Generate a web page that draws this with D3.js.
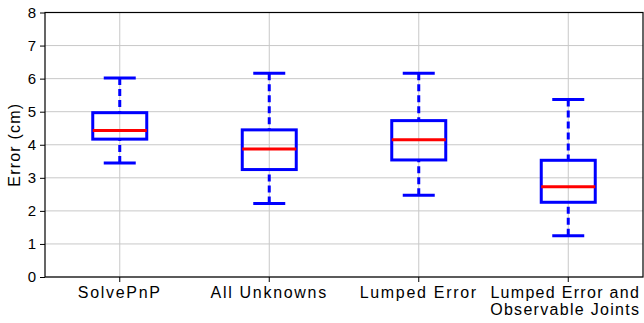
<!DOCTYPE html>
<html><head><meta charset="utf-8">
<script src="https://cdn.jsdelivr.net/npm/d3@7"></script>
<style>body{margin:0;background:#fff}svg{display:block}text{font-family:"Liberation Sans",Arial,sans-serif;fill:#000}</style>
</head><body><svg id="c" width="644" height="323"></svg>
<script>
const categories = [["SolvePnP"], ["All Unknowns"], ["Lumped Error"], ["Lumped Error and", "Observable Joints"]];
const whiskerHigh = [6.02, 6.16, 6.16, 5.37];
const q3 = [4.97, 4.45, 4.73, 3.53];
const median = [4.43, 3.87, 4.15, 2.73];
const q1 = [4.17, 3.25, 3.54, 2.26];
const whiskerLow = [3.45, 2.22, 2.47, 1.25];
const yTicks = [0,1,2,3,4,5,6,7,8];

const svg = d3.select("#c");
const m = {l:45, r:1, t:12.5, b:46};
const W = 644, H = 323;
const x = d3.scaleBand().domain(d3.range(categories.length)).range([m.l, W - m.r]);
const y = d3.scaleLinear().domain([0, 8]).range([H - m.b, m.t]);
const cx = i => x(i) + x.bandwidth()/2;

// grid
svg.append("g").selectAll("line").data(yTicks).join("line")
  .attr("x1", m.l).attr("x2", W - m.r).attr("y1", d => y(d)).attr("y2", d => y(d))
  .attr("stroke", "#c8c8c8").attr("stroke-width", 1);
svg.append("g").selectAll("line").data(d3.range(categories.length)).join("line")
  .attr("x1", cx).attr("x2", cx).attr("y1", m.t).attr("y2", H - m.b)
  .attr("stroke", "#c8c8c8").attr("stroke-width", 1);

// axes
const ya = svg.append("g").attr("transform", `translate(${m.l},0)`)
  .call(d3.axisLeft(y).tickValues(yTicks).tickSize(5).tickPadding(4).tickFormat(d3.format("d")));
ya.select(".domain").remove();
ya.selectAll("text").style("font-size", "15px").attr("font-family", "Liberation Sans, Arial, sans-serif");
ya.selectAll("line").attr("stroke", "#000");

const xa = svg.append("g").attr("transform", `translate(0,${H - m.b})`)
  .call(d3.axisBottom(x).tickSize(5).tickFormat(""));
xa.select(".domain").remove();
xa.selectAll(".tick line").attr("stroke", "#000");
xa.selectAll(".tick").each(function(d){
  const last = d === categories.length - 1;
  const t = d3.select(this).select("text").text(null)
    .attr("y", 0).attr("dy", null)
    .style("font-size", "16px").style("letter-spacing", last ? "1.3px" : "1.7px")
    .attr("font-family", "Liberation Sans, Arial, sans-serif");
  categories[d].forEach((s, k) => {
    t.append("tspan").attr("x", last ? -3 : 0).attr("y", 21 + k*17).text(s);
  });
});

// frame
svg.append("rect").attr("x", m.l).attr("y", m.t).attr("width", W - m.r - m.l).attr("height", H - m.b - m.t)
  .attr("fill", "none").attr("stroke", "#000").attr("stroke-width", 1.2);

// boxes
const bw = 54, cw = 32, blue = "#0000ff";
const g = svg.append("g");
categories.forEach((c, i) => {
  const X = cx(i);
  g.append("line").attr("x1", X).attr("x2", X).attr("y1", y(whiskerHigh[i])).attr("y2", y(q3[i]))
    .attr("stroke", blue).attr("stroke-width", 3).attr("stroke-dasharray", "7,4");
  g.append("line").attr("x1", X).attr("x2", X).attr("y1", y(whiskerLow[i])).attr("y2", y(q1[i]))
    .attr("stroke", blue).attr("stroke-width", 3).attr("stroke-dasharray", "7,4");
  [whiskerHigh[i], whiskerLow[i]].forEach(v => {
    g.append("line").attr("x1", X - cw/2).attr("x2", X + cw/2).attr("y1", y(v)).attr("y2", y(v))
      .attr("stroke", blue).attr("stroke-width", 3);
  });
  g.append("rect").attr("x", X - bw/2).attr("width", bw).attr("y", y(q3[i])).attr("height", y(q1[i]) - y(q3[i]))
    .attr("fill", "none").attr("stroke", blue).attr("stroke-width", 3);
  g.append("line").attr("x1", X - bw/2).attr("x2", X + bw/2).attr("y1", y(median[i])).attr("y2", y(median[i]))
    .attr("stroke", "#ff0000").attr("stroke-width", 3);
});

// y label
svg.append("text").attr("transform", `translate(20,${(m.t + H - m.b)/2}) rotate(-90)`)
  .attr("text-anchor", "middle").style("font-size", "16px").style("letter-spacing", "1.2px").text("Error (cm)");
</script></body></html>
